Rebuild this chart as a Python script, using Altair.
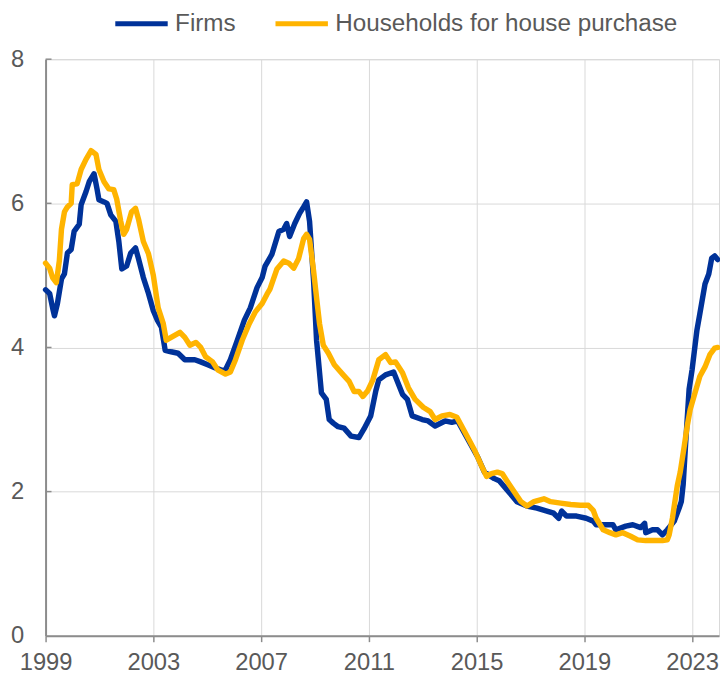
import altair as alt
import pandas as pd

# ---- data ----
series_names = ["Firms", "Households for house purchase"]
series_colors = ["#003299", "#FFB400"]
x_ticks = [1999, 2003, 2007, 2011, 2015, 2019, 2023]
y_ticks = [0, 2, 4, 6, 8]

firms_t = [1999.00, 1999.15, 1999.26, 1999.33, 1999.44, 1999.59, 1999.70, 1999.81, 1999.95,
           2000.06, 2000.25, 2000.32, 2000.50, 2000.62, 2000.80, 2000.91, 2000.98, 2001.17,
           2001.28, 2001.42, 2001.61, 2001.72, 2001.83, 2002.01, 2002.16, 2002.34, 2002.45,
           2002.63, 2002.82, 2003.00, 2003.15, 2003.30, 2003.44, 2003.66, 2003.92, 2004.17,
           2004.54, 2004.76, 2005.02, 2005.28, 2005.57, 2005.68, 2005.86, 2006.12, 2006.38,
           2006.60, 2006.85, 2007.04, 2007.15, 2007.40, 2007.66, 2007.84, 2007.95, 2008.06,
           2008.25, 2008.43, 2008.58, 2008.69, 2008.80, 2008.95, 2009.06, 2009.24, 2009.42,
           2009.53, 2009.68, 2009.86, 2010.08, 2010.34, 2010.63, 2010.82, 2011.07, 2011.26,
           2011.37, 2011.62, 2011.92, 2012.25, 2012.43, 2012.61, 2012.98, 2013.20, 2013.46,
           2013.83, 2014.08, 2014.30, 2014.67, 2015.04, 2015.29, 2015.66, 2015.84, 2016.14,
           2016.50, 2016.87, 2017.24, 2017.61, 2017.86, 2018.05, 2018.16, 2018.34, 2018.71,
           2019.07, 2019.33, 2019.44, 2019.70, 2020.06, 2020.17, 2020.54, 2020.80, 2021.09,
           2021.24, 2021.28, 2021.53, 2021.72, 2021.90, 2022.08, 2022.34, 2022.52, 2022.60,
           2022.67, 2022.75, 2022.89, 2023.00, 2023.18, 2023.29, 2023.48, 2023.62, 2023.73,
           2023.84, 2023.95]
firms_v = [4.80, 4.75, 4.55, 4.44, 4.61, 4.95, 5.02, 5.31, 5.36,
           5.61, 5.71, 5.98, 6.16, 6.30, 6.41, 6.20, 6.05, 6.02,
           6.00, 5.84, 5.75, 5.47, 5.09, 5.13, 5.31, 5.38, 5.23,
           4.97, 4.75, 4.51, 4.38, 4.28, 3.96, 3.94, 3.92, 3.83,
           3.83, 3.80, 3.76, 3.72, 3.68, 3.69, 3.83, 4.10, 4.38,
           4.55, 4.83, 4.97, 5.13, 5.29, 5.61, 5.64, 5.72, 5.54,
           5.72, 5.86, 5.95, 6.02, 5.75, 4.92, 4.10, 3.37, 3.28,
           3.00, 2.95, 2.90, 2.88, 2.77, 2.75, 2.87, 3.05, 3.40,
           3.55, 3.62, 3.66, 3.35, 3.28, 3.05, 3.00, 2.98, 2.91,
           2.98, 2.96, 2.98, 2.73, 2.48, 2.27, 2.18, 2.15, 2.02,
           1.86, 1.80, 1.77, 1.73, 1.70, 1.63, 1.73, 1.66, 1.66,
           1.63, 1.59, 1.54, 1.54, 1.54, 1.47, 1.52, 1.54, 1.50,
           1.56, 1.43, 1.47, 1.47, 1.40, 1.47, 1.59, 1.77, 1.86,
           2.10, 2.60, 3.42, 3.69, 4.24, 4.47, 4.88, 5.02, 5.24,
           5.27, 5.22]

hh_t = [1999.00, 1999.15, 1999.26, 1999.40, 1999.51, 1999.59, 1999.70, 1999.81, 1999.95,
        1999.99, 2000.17, 2000.32, 2000.50, 2000.69, 2000.87, 2000.98, 2001.17, 2001.35,
        2001.53, 2001.64, 2001.79, 2001.90, 2002.01, 2002.19, 2002.34, 2002.45, 2002.63,
        2002.82, 2003.00, 2003.18, 2003.37, 2003.48, 2003.66, 2003.99, 2004.17, 2004.36,
        2004.58, 2004.76, 2004.94, 2005.20, 2005.39, 2005.68, 2005.86, 2006.05, 2006.30,
        2006.56, 2006.78, 2007.04, 2007.22, 2007.33, 2007.59, 2007.84, 2008.03, 2008.21,
        2008.39, 2008.58, 2008.69, 2008.80, 2008.95, 2009.06, 2009.17, 2009.31, 2009.50,
        2009.72, 2010.05, 2010.27, 2010.45, 2010.63, 2010.78, 2010.96, 2011.15, 2011.37,
        2011.62, 2011.81, 2011.99, 2012.25, 2012.47, 2012.72, 2013.02, 2013.28, 2013.46,
        2013.72, 2014.01, 2014.27, 2014.56, 2014.93, 2015.18, 2015.37, 2015.55, 2015.77,
        2015.95, 2016.14, 2016.39, 2016.65, 2016.87, 2017.13, 2017.50, 2017.75, 2018.12,
        2018.49, 2018.85, 2019.15, 2019.33, 2019.44, 2019.70, 2019.95, 2020.17, 2020.43,
        2020.72, 2020.98, 2021.28, 2021.61, 2021.90, 2022.08, 2022.15, 2022.27, 2022.45,
        2022.56, 2022.71, 2022.82, 2022.93, 2023.11, 2023.29, 2023.48, 2023.66, 2023.84,
        2023.95]
hh_v = [5.17, 5.10, 4.97, 4.90, 5.20, 5.64, 5.88, 5.95, 6.00,
        6.26, 6.27, 6.47, 6.61, 6.73, 6.68, 6.47, 6.30, 6.20,
        6.19, 6.06, 5.75, 5.57, 5.64, 5.88, 5.93, 5.78, 5.47,
        5.30, 5.00, 4.55, 4.33, 4.10, 4.14, 4.21, 4.14, 4.03,
        4.07, 4.00, 3.87, 3.80, 3.69, 3.63, 3.66, 3.83, 4.10,
        4.33, 4.49, 4.61, 4.74, 4.81, 5.09, 5.20, 5.17, 5.10,
        5.23, 5.51, 5.57, 5.50, 5.06, 4.69, 4.33, 4.03, 3.92,
        3.76, 3.62, 3.53, 3.39, 3.39, 3.32, 3.40, 3.55, 3.83,
        3.90, 3.79, 3.80, 3.65, 3.44, 3.28, 3.17, 3.11, 3.00,
        3.05, 3.07, 3.03, 2.83, 2.57, 2.36, 2.21, 2.25, 2.27,
        2.25, 2.14, 2.00, 1.86, 1.80, 1.86, 1.90, 1.86, 1.84,
        1.82, 1.81, 1.81, 1.74, 1.63, 1.47, 1.43, 1.40, 1.43,
        1.38, 1.33, 1.32, 1.32, 1.32, 1.33, 1.40, 1.63, 2.08,
        2.27, 2.63, 2.91, 3.14, 3.37, 3.60, 3.73, 3.90, 3.99,
        4.00]

df = pd.concat([
    pd.DataFrame({"t": firms_t, "v": firms_v, "s": series_names[0]}),
    pd.DataFrame({"t": hh_t, "v": hh_v, "s": series_names[1]}),
], ignore_index=True)

FONT = "Liberation Sans"
LABEL_COLOR = "#595959"
AXIS_COLOR = "#8c8c8c"
GRID_COLOR = "#d9d9d9"

y_axis = alt.Axis(values=y_ticks, title=None, grid=True, ticks=False, labelPadding=22)
y_scale = alt.Scale(domain=[0, 8], nice=False)

lines = alt.Chart(df).mark_line(strokeWidth=5.5, strokeJoin="round", strokeCap="round").encode(
    x=alt.X("t:Q",
            scale=alt.Scale(domain=[1999, 2024], nice=False, zero=False),
            axis=alt.Axis(values=x_ticks, format="d", title=None, grid=True,
                          ticks=True, tickSize=6, tickColor=AXIS_COLOR, tickWidth=1.5,
                          labelPadding=9, labelFlush=False)),
    y=alt.Y("v:Q", scale=y_scale, axis=y_axis),
    color=alt.Color("s:N",
                    scale=alt.Scale(domain=series_names, range=series_colors),
                    legend=alt.Legend(title=None, orient="none", direction="horizontal",
                                      legendX=68, legendY=-65, symbolType="stroke",
                                      symbolSize=2809, symbolStrokeWidth=5,
                                      labelFontSize=24.5, labelFont=FONT, labelColor=LABEL_COLOR,
                                      labelLimit=0, labelOffset=5, columnPadding=29,
                                      padding=0)),
)

ytick_df = pd.DataFrame({"v": y_ticks[1:]})
yticks = alt.Chart(ytick_df).mark_rule(color=AXIS_COLOR, strokeWidth=1.5).encode(
    y=alt.Y("v:Q", scale=y_scale, axis=y_axis),
    x=alt.value(0),
    x2=alt.value(6),
)

chart = alt.layer(lines, yticks).properties(
    width=681, height=583,
    autosize=alt.AutoSizeParams(type="none"),
    padding={"left": 38, "top": 48, "right": 1, "bottom": 40},
).configure_view(
    stroke=GRID_COLOR, strokeWidth=1
).configure_axis(
    labelFont=FONT, labelFontSize=24, labelColor=LABEL_COLOR,
    domainColor=AXIS_COLOR, domainWidth=2,
    gridColor=GRID_COLOR, gridWidth=1,
)

chart.save("out.html", embed_options={"renderer": "svg", "actions": False})
